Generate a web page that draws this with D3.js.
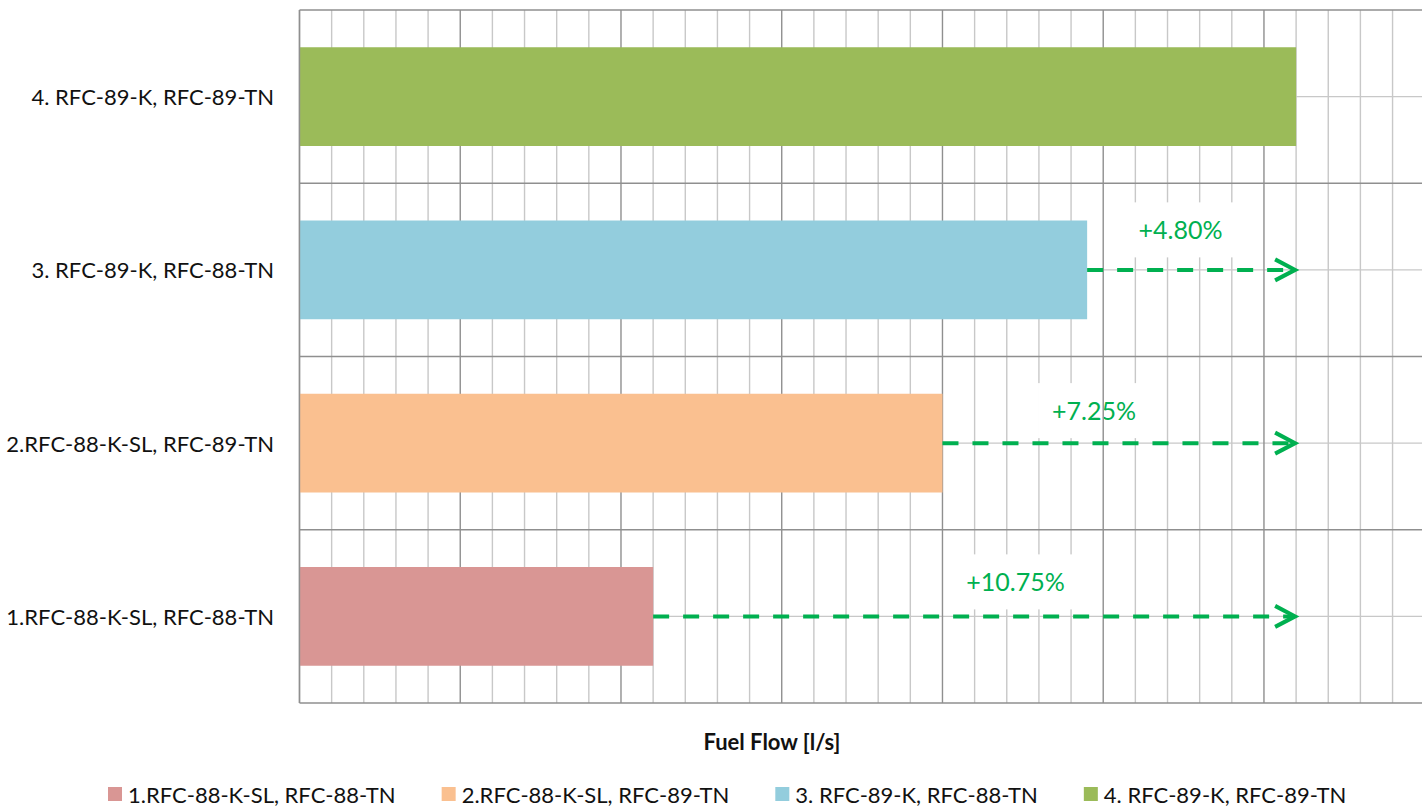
<!DOCTYPE html>
<html>
<head>
<meta charset="utf-8">
<script src="https://cdn.jsdelivr.net/npm/d3@7"></script>
<style>
  html, body { margin: 0; padding: 0; background: #fff; }
  svg { display: block; }
  text { font-family: Lato, "Open Sans", sans-serif; }
</style>
</head>
<body>
<svg id="chart" width="1422" height="806"></svg>
<script>
// ---- data (axis units are relative grid units) ----
const categories = [
  "1.RFC-88-K-SL, RFC-88-TN",
  "2.RFC-88-K-SL, RFC-89-TN",
  "3. RFC-89-K, RFC-88-TN",
  "4. RFC-89-K, RFC-89-TN"
];
const fuelFlow = [11, 20, 24.5, 31];
const colors = ["#D99694", "#FAC090", "#93CDDD", "#9BBB59"];
const increaseLabels = ["+10.75%", "+7.25%", "+4.80%", null];
const xDomain = [0, 35];
const minorStep = 1, majorStep = 5;
const axisTitle = "Fuel Flow [l/s]";

// ---- layout ----
const svg = d3.select("#chart");
const pL = 299.5, pR = 1424.7, pT = 10, pB = 703;

const x = d3.scaleLinear().domain(xDomain).range([pL, pR]);
const y = d3.scaleBand().domain(categories.slice().reverse()).range([pT, pB]).paddingInner(0.43).paddingOuter(0.215);
const yBand = d3.scaleBand().domain(categories.slice().reverse()).range([pT, pB]);

const gridMinor = "#c8c8c8", gridMajor = "#8f8f8f", green = "#00B050";

const allTicks = d3.range(xDomain[0], xDomain[1] + 0.001, minorStep);
const minorTicks = allTicks.filter(t => t % majorStep !== 0);
const majorTicks = allTicks.filter(t => t % majorStep === 0);

// minor vertical gridlines
svg.append("g").selectAll("line").data(minorTicks).join("line")
  .attr("x1", d => x(d)).attr("x2", d => x(d))
  .attr("y1", pT).attr("y2", pB)
  .attr("stroke", gridMinor).attr("stroke-width", 1.4);

// horizontal light lines at category centres
svg.append("g").selectAll("line").data(categories).join("line")
  .attr("x1", pL).attr("x2", pR)
  .attr("y1", d => yBand(d) + yBand.bandwidth() / 2)
  .attr("y2", d => yBand(d) + yBand.bandwidth() / 2)
  .attr("stroke", gridMinor).attr("stroke-width", 1.4);

// label backgrounds (white boxes)
const labelG = svg.append("g");
const labelData = categories.map((c, i) => ({c, i, label: increaseLabels[i]})).filter(d => d.label);
const boxes = labelG.selectAll("rect").data(labelData).join("rect").attr("fill", "#fff");

// major vertical gridlines
svg.append("g").selectAll("line").data(majorTicks).join("line")
  .attr("x1", d => x(d)).attr("x2", d => x(d))
  .attr("y1", pT).attr("y2", pB)
  .attr("stroke", gridMajor).attr("stroke-width", 1.4);

// horizontal band boundaries
const bounds = categories.map(c => yBand(c)).concat([pB]);
svg.append("g").selectAll("line").data(bounds).join("line")
  .attr("x1", pL).attr("x2", pR)
  .attr("y1", d => d).attr("y2", d => d)
  .attr("stroke", gridMajor).attr("stroke-width", 1.4);

// bars
svg.append("g").selectAll("rect").data(categories).join("rect")
  .attr("x", x(0))
  .attr("y", d => y(d))
  .attr("width", (d, i) => x(fuelFlow[i]) - x(0))
  .attr("height", y.bandwidth())
  .attr("fill", (d, i) => colors[i]);

// arrows to the top bar's value
const target = fuelFlow[fuelFlow.length - 1];
const arrowG = svg.append("g");
labelData.forEach(d => {
  const cy = y(d.c) + y.bandwidth() / 2;
  const x0 = x(fuelFlow[d.i]), x1 = x(target);
  arrowG.append("line")
    .attr("x1", x0).attr("x2", x1 - 3)
    .attr("y1", cy).attr("y2", cy)
    .attr("stroke", green).attr("stroke-width", 4)
    .attr("stroke-dasharray", "16,14");
  arrowG.append("path")
    .attr("d", `M${x1 - 21},${cy - 10.5} L${x1 - 1},${cy} L${x1 - 21},${cy + 10.5}`)
    .attr("fill", "none").attr("stroke", green).attr("stroke-width", 4)
    .attr("stroke-linejoin", "miter");
});

// percentage labels
const labelCx = [1015.5, 1094, 1180.5];
const labelDy = [35, 33, 40.5];
const texts = labelG.selectAll("text").data(labelData).join("text")
  .attr("x", (d, k) => labelCx[k])
  .attr("y", (d, k) => y(d.c) + y.bandwidth() / 2 - labelDy[k])
  .attr("text-anchor", "middle")
  .attr("dominant-baseline", "central")
  .attr("font-size", 25)
  .attr("fill", green)
  .text(d => d.label);
texts.each(function(d, k) {
  const w = this.getComputedTextLength();
  const ty = y(d.c) + y.bandwidth() / 2 - labelDy[k];
  d3.select(boxes.nodes()[k])
    .attr("x", labelCx[k] - w / 2 - 14).attr("width", w + 28)
    .attr("y", ty - 27).attr("height", 55);
});

// left border
svg.append("line").attr("x1", pL).attr("x2", pL).attr("y1", pT).attr("y2", pB)
  .attr("stroke", gridMajor).attr("stroke-width", 1.4);

// category axis labels
svg.append("g").selectAll("text").data(categories).join("text")
  .attr("x", 274)
  .attr("y", d => yBand(d) + yBand.bandwidth() / 2)
  .attr("text-anchor", "end")
  .attr("dominant-baseline", "central")
  .attr("font-size", 22)
  .attr("fill", "#111")
  .text(d => d);

// axis title
svg.append("text")
  .attr("x", 772).attr("y", 741)
  .attr("text-anchor", "middle")
  .attr("dominant-baseline", "central")
  .attr("font-size", 22).attr("font-weight", "bold")
  .attr("fill", "#111")
  .text(axisTitle);

// legend
const legend = svg.append("g");
let lx = 108;
categories.forEach((c, i) => {
  legend.append("rect").attr("x", lx).attr("y", 787).attr("width", 14).attr("height", 14).attr("fill", colors[i]);
  const t = legend.append("text").attr("x", lx + 20).attr("y", 794)
    .attr("dominant-baseline", "central").attr("font-size", 22).attr("fill", "#111").text(c);
  lx += 20 + t.node().getComputedTextLength() + 46;
});
</script>
</body>
</html>
